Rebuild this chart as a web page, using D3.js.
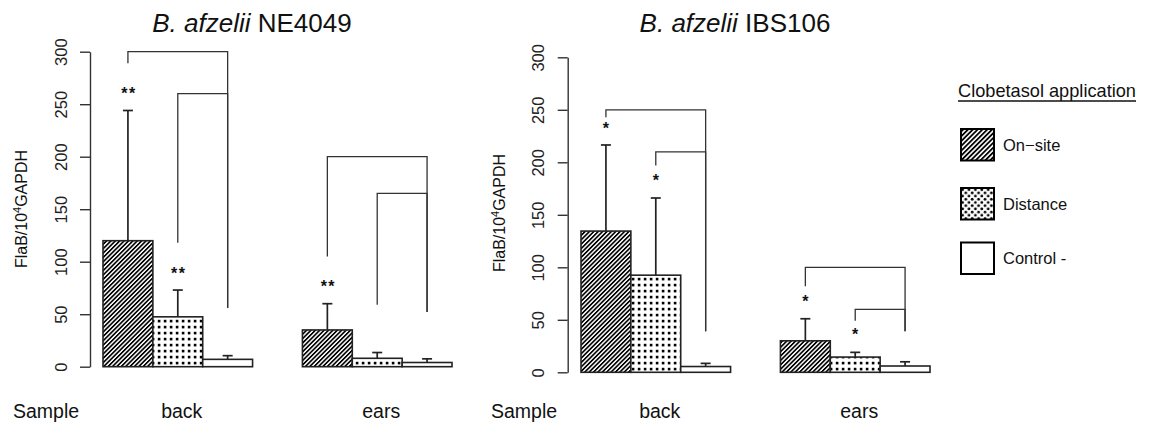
<!DOCTYPE html>
<html>
<head>
<meta charset="utf-8">
<script src="https://cdn.jsdelivr.net/npm/d3@7"></script>
<style>
  body { margin: 0; background: #fff; }
  svg { display: block; font-family: "Liberation Sans", Arial, sans-serif; }
</style>
</head>
<body>
<svg id="chart" width="1151" height="423"></svg>
<script>
// ---------- data ----------
const groups = ["back", "ears"];
const series = ["On\u2212site", "Distance", "Control -"];
const yTicks = [0, 50, 100, 150, 200, 250, 300];

// Panel 1: B. afzelii NE4049
const ne4049Means  = [[120, 47.5, 7], [35, 8, 4]];
const ne4049Errors = [[244, 73, 10.5], [60, 13.5, 7.5]];
// brackets: [group, fromSeries, toSeries, level, fromEnd, toEnd]
const ne4049Brackets = [
  ["back", 0, 2, 300, 289, 56],
  ["back", 1, 2, 260, 118, 56],
  ["ears", 0, 2, 200, 105, 52],
  ["ears", 1, 2, 165, 59, 52]
];
// stars: [group, series, value, text]
const ne4049Stars = [
  ["back", 0, 263, "**"],
  ["back", 1, 92, "**"],
  ["ears", 0, 79, "**"]
];

// Panel 2: B. afzelii IBS106
const ibs106Means  = [[134.5, 92.5, 5.5], [30, 14.5, 6]];
const ibs106Errors = [[216.5, 166, 8.5], [51, 19, 10]];
const ibs106Brackets = [
  ["back", 0, 2, 250, 243, 39],
  ["back", 1, 2, 210, 197, 39],
  ["ears", 0, 2, 100, 82, 39],
  ["ears", 1, 2, 60, 49, 39]
];
const ibs106Stars = [
  ["back", 0, 235.5, "*"],
  ["back", 1, 186, "*"],
  ["ears", 0, 70.5, "*"],
  ["ears", 1, 38.5, "*"]
];

const panels = [
  { strain: "NE4049", means: ne4049Means, errors: ne4049Errors, brackets: ne4049Brackets, stars: ne4049Stars,
    axisX: 90, yBottom: 366.7, yTop: 51.7, xRange: [103, 452], titleX: 252, sampleX: 13, labX: 27, labY: 209 },
  { strain: "IBS106", means: ibs106Means, errors: ibs106Errors, brackets: ibs106Brackets, stars: ibs106Stars,
    axisX: 567.7, yBottom: 372.3, yTop: 57.3, xRange: [581, 930], titleX: 735, sampleX: 491, labX: 505, labY: 213 }
];

const svg = d3.select("#chart");
const defs = svg.append("defs");

// hatch pattern
const hatch = defs.append("pattern").attr("id", "hatch").attr("patternUnits", "userSpaceOnUse")
  .attr("width", 3.1).attr("height", 3.1).attr("patternTransform", "rotate(45)");
hatch.append("rect").attr("width", 3.1).attr("height", 3.1).attr("fill", "#fff");
hatch.append("line").attr("x1", 0.8).attr("y1", 0).attr("x2", 0.8).attr("y2", 3.1)
  .attr("stroke", "#000").attr("stroke-width", 1.7);

const hatchL = defs.append("pattern").attr("id", "hatchL").attr("patternUnits", "userSpaceOnUse")
  .attr("width", 3.4).attr("height", 3.4).attr("patternTransform", "rotate(45)");
hatchL.append("rect").attr("width", 3.4).attr("height", 3.4).attr("fill", "#fff");
hatchL.append("line").attr("x1", 0.9).attr("y1", 0).attr("x2", 0.9).attr("y2", 3.4)
  .attr("stroke", "#000").attr("stroke-width", 1.8);

// dots pattern
const dots = defs.append("pattern").attr("id", "dots").attr("patternUnits", "userSpaceOnUse")
  .attr("width", 6).attr("height", 6);
dots.append("rect").attr("width", 6).attr("height", 6).attr("fill", "#fff");
dots.append("rect").attr("x", 1.8).attr("y", 1.8).attr("width", 2.6).attr("height", 2.6).attr("fill", "#000");

const dotsL = defs.append("pattern").attr("id", "dotsL").attr("patternUnits", "userSpaceOnUse")
  .attr("width", 6.4).attr("height", 6.4).attr("x", 961).attr("y", 188);
dotsL.append("rect").attr("width", 6.4).attr("height", 6.4).attr("fill", "#fff");
dotsL.append("circle").attr("cx", 1.6).attr("cy", 1.6).attr("r", 1.4).attr("fill", "#000");
dotsL.append("circle").attr("cx", 4.8).attr("cy", 4.8).attr("r", 1.4).attr("fill", "#000");

const fills = ["url(#hatch)", "url(#dots)", "#fff"];
const legendFills = ["url(#hatchL)", "url(#dotsL)", "#fff"];

const lineColor = "#222";
const textColor = "#111";

panels.forEach(p => {
  const g = svg.append("g");
  const y = d3.scaleLinear().domain([0, 300]).range([p.yBottom, p.yTop]);
  const x0 = d3.scaleBand().domain(groups).range(p.xRange).paddingInner(0.25).paddingOuter(0);
  const x1 = d3.scaleBand().domain(d3.range(series.length)).range([0, x0.bandwidth()]);
  const cx = (grp, s) => x0(grp) + x1(s) + x1.bandwidth() / 2;

  // axis
  const axis = d3.axisLeft(y).tickValues(yTicks).tickSize(10).tickSizeOuter(0).tickPadding(0);
  const ag = g.append("g").attr("transform", `translate(${p.axisX},0)`).call(axis);
  ag.select(".domain").attr("stroke", "#333").attr("stroke-width", 1.4);
  ag.selectAll(".tick line").attr("stroke", "#333").attr("stroke-width", 1.4);
  ag.selectAll(".tick text")
    .attr("font-size", 16.5).attr("fill", "#222")
    .attr("text-anchor", "middle")
    .attr("x", 0).attr("y", 0).attr("dy", 0)
    .attr("transform", "translate(-23.5,0) rotate(-90)");

  // bars
  groups.forEach((grp, gi) => {
    series.forEach((s, si) => {
      const v = p.means[gi][si];
      const e = p.errors[gi][si];
      const xc = cx(grp, si);
      // error bar
      g.append("line").attr("x1", xc).attr("x2", xc).attr("y1", y(v)).attr("y2", y(e))
        .attr("stroke", lineColor).attr("stroke-width", 1.7);
      g.append("line").attr("x1", xc - 5).attr("x2", xc + 5).attr("y1", y(e)).attr("y2", y(e))
        .attr("stroke", lineColor).attr("stroke-width", 1.7);
      g.append("rect")
        .attr("x", x0(grp) + x1(si)).attr("width", x1.bandwidth())
        .attr("y", y(v)).attr("height", y(0) - y(v))
        .attr("fill", fills[si]).attr("stroke", "#222").attr("stroke-width", 1.6);
    });
  });

  // brackets
  p.brackets.forEach(([grp, a, b, lvl, ea, eb]) => {
    const xa = cx(grp, a), xb = cx(grp, b);
    g.append("path")
      .attr("d", `M${xa},${y(ea)}V${y(lvl)}H${xb}V${y(eb)}`)
      .attr("fill", "none").attr("stroke", "#333").attr("stroke-width", 1.3);
  });

  // stars
  p.stars.forEach(([grp, si, v, t]) => {
    g.append("text").attr("x", cx(grp, si) + (t.length > 1 ? 1 : 0)).attr("y", y(v) + 8.5)
      .attr("text-anchor", "middle").attr("font-size", 16).attr("font-weight", "bold")
      .attr("letter-spacing", t.length > 1 ? 1.5 : 0)
      .attr("fill", textColor).text(t);
  });

  // title
  const title = g.append("text").attr("x", p.titleX).attr("y", 32).attr("text-anchor", "middle")
    .attr("font-size", 26).attr("fill", textColor);
  title.append("tspan").attr("font-style", "italic").text("B. afzelii");
  title.append("tspan").text(" " + p.strain);

  // y label
  const yl = g.append("text").attr("transform", `translate(${p.labX},${p.labY}) rotate(-90)`)
    .attr("text-anchor", "middle").attr("font-size", 16).attr("fill", textColor);
  yl.append("tspan").text("FlaB/10");
  yl.append("tspan").attr("font-size", 11).attr("dy", -6).text("4");
  yl.append("tspan").attr("dy", 6).text("GAPDH");

  // x labels
  g.append("text").attr("x", p.sampleX).attr("y", 418).attr("font-size", 19.5).attr("fill", textColor).text("Sample");
  groups.forEach(grp => {
    g.append("text").attr("x", x0(grp) + x0.bandwidth() / 2 + 4).attr("y", 418)
      .attr("text-anchor", "middle").attr("font-size", 19.5).attr("fill", textColor).text(grp);
  });
});

// legend
const lg = svg.append("g");
lg.append("text").attr("x", 958).attr("y", 97).attr("font-size", 18.2).attr("fill", textColor)
  .text("Clobetasol application");
lg.append("line").attr("x1", 958).attr("x2", 1136).attr("y1", 101).attr("y2", 101)
  .attr("stroke", "#111").attr("stroke-width", 1.3);
const legendY = [129, 188, 242.5];
series.forEach((s, i) => {
  lg.append("rect").attr("x", 961).attr("y", legendY[i]).attr("width", 33).attr("height", 31.5)
    .attr("fill", legendFills[i]).attr("stroke", "#000").attr("stroke-width", 2);
  lg.append("text").attr("x", 1003).attr("y", legendY[i] + 16).attr("dy", "0.35em")
    .attr("font-size", 16.5).attr("fill", textColor).text(s);
});
</script>
</body>
</html>
